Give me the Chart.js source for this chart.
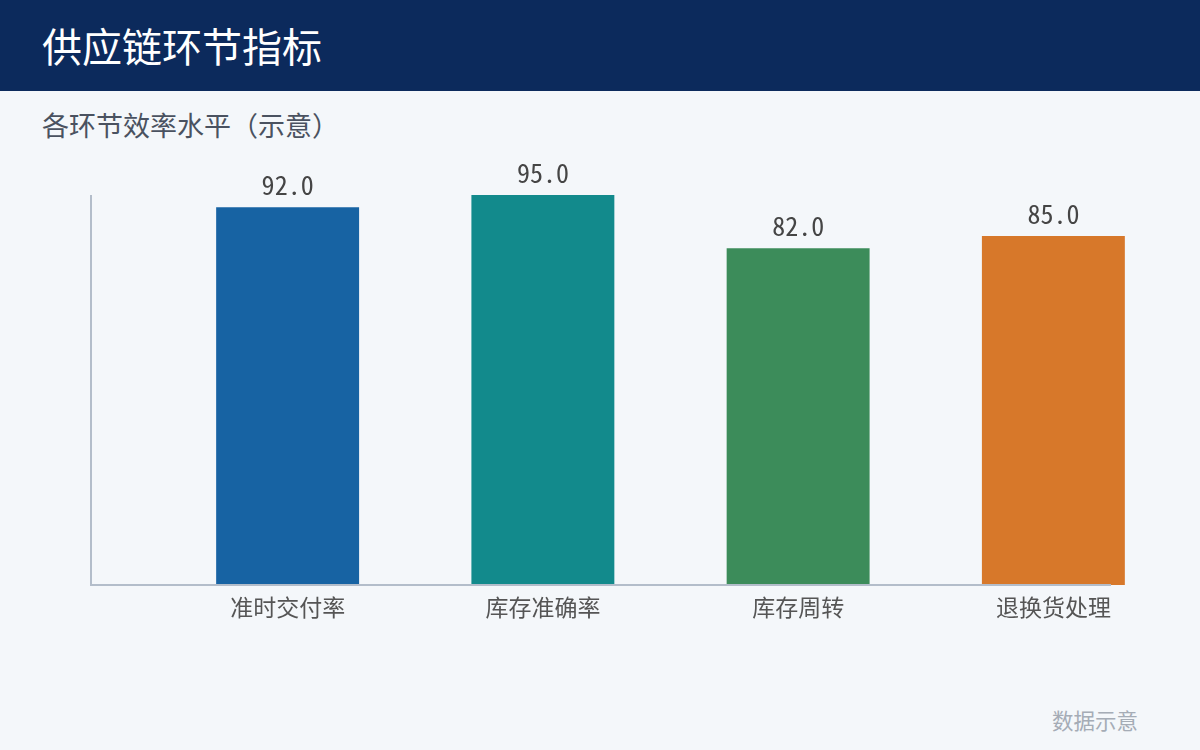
<!DOCTYPE html>
<html lang="zh-CN">
<head>
<meta charset="utf-8">
<title>供应链环节指标</title>
<script src="https://cdn.jsdelivr.net/npm/chart.js@4.4.1/dist/chart.umd.min.js"></script>
<style>
  html, body { margin: 0; padding: 0; }
  body {
    width: 1200px; height: 750px; position: relative; overflow: hidden;
    background: #f4f7fa;
    font-family: "Noto Sans CJK SC", "Noto Sans", sans-serif;
  }
  .header {
    position: absolute; left: 0; top: 0; width: 1200px; height: 91px;
    background: #0c2a5c;
  }
  .header h1 {
    margin: 0; position: absolute; left: 42px; top: 18px;
    font-size: 40px; line-height: 54px; font-weight: 400; color: #ffffff;
  }
  .subtitle {
    position: absolute; left: 42px; top: 107px;
    font-size: 27px; line-height: 36px; color: #4a5260;
  }
  .chart-box {
    position: absolute; left: 0; top: 150px; width: 1200px; height: 500px;
  }
  .note {
    position: absolute; right: 62px; top: 705px;
    font-size: 21.5px; line-height: 30px; color: #a5acb6;
  }
</style>
</head>
<body>
<div class="header"><h1>供应链环节指标</h1></div>
<div class="subtitle">各环节效率水平（示意）</div>
<div class="chart-box"><canvas id="stage-chart" width="1200" height="500"></canvas></div>
<div class="note">数据示意</div>

<script>
const categories = ['准时交付率', '库存准确率', '库存周转', '退换货处理'];
const efficiency = [92.0, 95.0, 82.0, 85.0];
const barColors = ['#1763a3', '#128a8c', '#3c8c5a', '#d7782a'];

// axis lines sit a bit left of the bars, like the original layout
const AXIS_LEFT = 91;
const AXIS_RIGHT = 1111;

const axisLines = {
    id: 'axisLines',
    afterDatasetsDraw(chart) {
        const { ctx, chartArea } = chart;
        ctx.save();
        ctx.strokeStyle = '#b3bdca';
        ctx.lineWidth = 2;
        ctx.beginPath();
        ctx.moveTo(AXIS_LEFT, chartArea.top);
        ctx.lineTo(AXIS_LEFT, chartArea.bottom);
        ctx.lineTo(AXIS_RIGHT, chartArea.bottom);
        ctx.stroke();
        ctx.restore();
    }
};

const valueLabels = {
    id: 'valueLabels',
    afterDatasetsDraw(chart) {
        const { ctx } = chart;
        const meta = chart.getDatasetMeta(0);
        ctx.save();
        ctx.fillStyle = '#454545';
        ctx.font = '26px "Noto Sans Mono CJK SC", "Liberation Mono", monospace';
        ctx.textAlign = 'center';
        ctx.textBaseline = 'alphabetic';
        meta.data.forEach((bar, i) => {
            ctx.fillText(efficiency[i].toFixed(1), bar.x, bar.y - 12);
        });
        ctx.restore();
    }
};

function createChart() {
    const ctx = document.getElementById('stage-chart').getContext('2d');

    new Chart(ctx, {
        type: 'bar',
        data: {
            labels: categories,
            datasets: [{
                label: '效率水平',
                data: efficiency,
                backgroundColor: barColors,
                borderWidth: 0,
                categoryPercentage: 1,
                barPercentage: 0.56
            }]
        },
        options: {
            responsive: false,
            animation: false,
            layout: {
                padding: { top: 45, left: 160, right: 19, bottom: 0 }
            },
            plugins: {
                legend: { display: false },
                tooltip: { enabled: false }
            },
            scales: {
                x: {
                    grid: { display: false },
                    border: { display: false },
                    ticks: {
                        color: '#555555',
                        padding: 0,
                        font: { family: '"Noto Sans CJK SC", sans-serif', size: 23 }
                    },
                    afterFit(scale) { scale.height = 65; }
                },
                y: {
                    display: false,
                    min: 0,
                    max: Math.max(...efficiency)
                }
            }
        },
        plugins: [axisLines, valueLabels]
    });
}

document.addEventListener('DOMContentLoaded', createChart);
</script>
</body>
</html>
